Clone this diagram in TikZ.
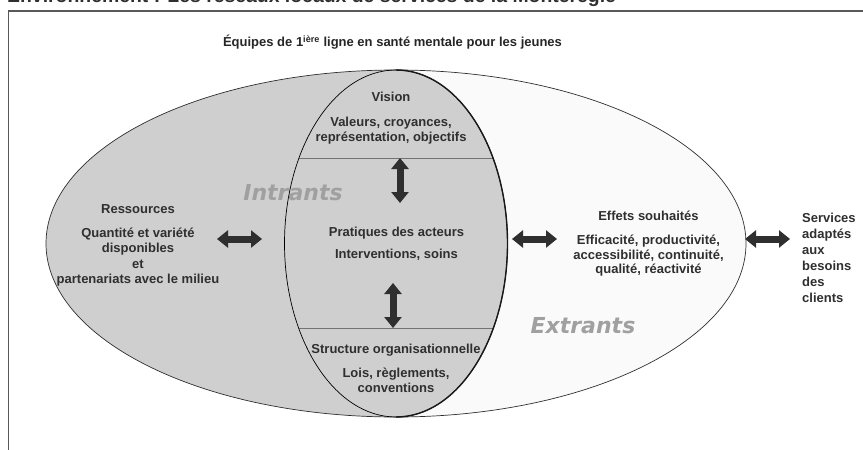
\documentclass[tikz,border=0pt]{standalone}
\usepackage{fontspec}
\setmainfont{Liberation Sans}
\newfontfamily\heavyfont{DejaVu Sans}
\usetikzlibrary{shapes.geometric, arrows.meta}
\definecolor{zonegray}{HTML}{CFCFCF}
\definecolor{zonelight}{HTML}{FAFAFA}
\definecolor{ink}{HTML}{2F2F2F}
\definecolor{faded}{HTML}{A0A0A0}
\tikzstyle{zone} = [ellipse, inner sep=0pt, outer sep=0pt, minimum height=347pt]
\tikzstyle{txt} = [inner sep=0pt, anchor=north, align=center, text=ink, font=\fontsize{13}{14.5}\selectfont\bfseries]
\tikzstyle{big} = [inner sep=0pt, text=faded, font=\fontsize{22}{24}\selectfont\heavyfont\bfseries\itshape]
\tikzstyle{dblarrow} = [line width=7pt, draw=ink, {Triangle[width=17pt,length=11pt]}-{Triangle[width=17pt,length=11pt]}]
\tikzstyle{divider} = [draw=black!55, line width=1pt]
\tikzstyle{frameline} = [draw=black!65, line width=0.8pt]

\begin{document}
\begin{tikzpicture}[x=1pt, y=-1pt]
\useasboundingbox (0,0) rectangle (863,450);
% cadre
\draw [frameline, line width=2pt] (8,10.5) -- (880,10.5);
\draw [frameline] (8,10.5) -- (8,470);
\node (n0) [anchor=base west, inner sep=0pt, text=ink, font=\fontsize{19.4}{21}\selectfont\bfseries] at (7,2) {Environnement : Les réseaux locaux de services de la Montérégie};
\node (n1) [anchor=base, inner sep=0pt, text=black!85, font=\fontsize{13}{15}\selectfont\bfseries] at (392.5,46.5) {Équipes de 1\textsuperscript{ière} ligne en santé mentale pour les jeunes};

% ellipses
\node (out) [zone, minimum width=700pt, fill=zonelight] at (396,243.5) {};
\begin{scope}
\clip (out.north) rectangle (0,450);
\fill [zonegray] (out.center) ellipse [x radius=350pt, y radius=173.5pt];
\end{scope}
\node (in) [zone, minimum width=223pt, fill=zonegray] at (396,243.5) {};

\node (n8) [big] at (293,193) {Intrants};
\node (n9) [big] at (583,326) {Extrants};

\begin{scope}
\clip (in.center) ellipse [x radius=111.5pt, y radius=173.5pt];
\draw [divider] (280,158) -- (520,158);
\draw [divider] (280,328) -- (520,328);
\end{scope}
\draw [ink, line width=0.7pt] (out.center) ellipse [x radius=350pt, y radius=173.5pt];
\draw [black, line width=0.7pt] (in.center) ellipse [x radius=111.5pt, y radius=173.5pt];
\draw [black!90, line width=1.4pt] (in.north) arc [start angle=90, end angle=-90, x radius=111.5pt, y radius=173.5pt];

% textes
\node (n2) [txt] at (391,92.2) {Vision\\[10.5pt]Valeurs, croyances,\\représentation, objectifs};
\node (n3) [txt, font=\fontsize{13}{15.5}\selectfont\bfseries] at (138,204.2) {Ressources\\[8.5pt]Quantité et variété\\disponibles\\et\\partenariats avec le milieu};
\node (n4) [txt] at (396.5,227.2) {Pratiques des acteurs\\[7.5pt]Interventions, soins};
\node (n5) [txt] at (396,343.5) {Structure organisationnelle\\[10pt]Lois, règlements,\\conventions};
\node (n6) [txt] at (648.5,211.2) {Effets souhaités\\[9.5pt]Efficacité, productivité,\\accessibilité, continuité,\\qualité, réactivité};
\node (n7) [txt, anchor=north west, align=left, font=\fontsize{13}{16}\selectfont\bfseries] at (802,212.5) {Services\\adaptés\\aux\\besoins\\des\\clients};

% fleches
\coordinate (p1) at (217,239);
\coordinate (p2) at (262,239);
\coordinate (p3) at (512,239);
\coordinate (p4) at (557,239);
\coordinate (p5) at (745,239);
\coordinate (p6) at (790,239);
\coordinate (p7) at (400,158);
\coordinate (p8) at (400,203);
\coordinate (p9) at (393,283);
\coordinate (p10) at (393,328);
\draw [dblarrow] (p1) -- (p2);
\draw [dblarrow] (p3) -- (p4);
\draw [dblarrow] (p5) -- (p6);
\draw [dblarrow] (p7) -- (p8);
\draw [dblarrow] (p9) -- (p10);

\end{tikzpicture}
\end{document}
